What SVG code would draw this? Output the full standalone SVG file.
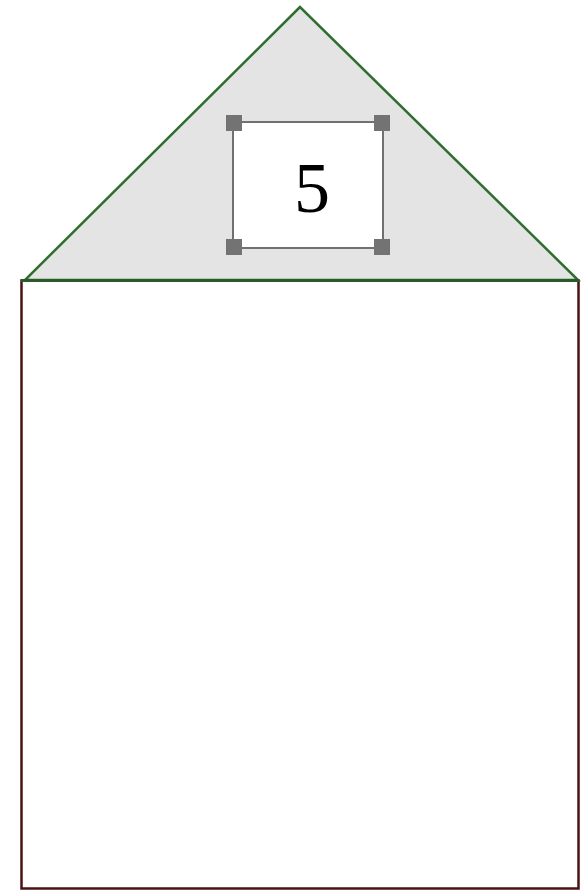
<svg xmlns="http://www.w3.org/2000/svg" width="587" height="891" viewBox="0 0 587 891">
<style>
.house{fill:#ffffff;stroke:#4a1212;stroke-width:2.5}
.roof{fill:#e4e4e4;stroke:#2f6e2f;stroke-width:2.5;stroke-linejoin:miter}
.box{fill:#ffffff;stroke:#707070;stroke-width:2}
.h{fill:#737373}
.lbl{font-family:"Liberation Serif","Times New Roman",serif;font-size:72px;fill:#000}
</style>
<rect width="587" height="891" fill="#ffffff"/>
<g id="house">
<rect class="house" x="21.5" y="280.5" width="557" height="608"/>
</g>
<g id="roof">
<polygon class="roof" points="300,7 25,280 578,280"/>
<line x1="21" y1="280.5" x2="579" y2="280.5" stroke="#2a5a2a" stroke-width="3"/>
</g>
<g id="label-box">
<rect class="box" x="233" y="122" width="150" height="126"/>
<rect class="h" x="226" y="115" width="16" height="16"/>
<rect class="h" x="374" y="115" width="16" height="16"/>
<rect class="h" x="226" y="239" width="16" height="16"/>
<rect class="h" x="374" y="239" width="16" height="16"/>
<text class="lbl" x="312" y="212" text-anchor="middle">5</text>
</g>
</svg>
